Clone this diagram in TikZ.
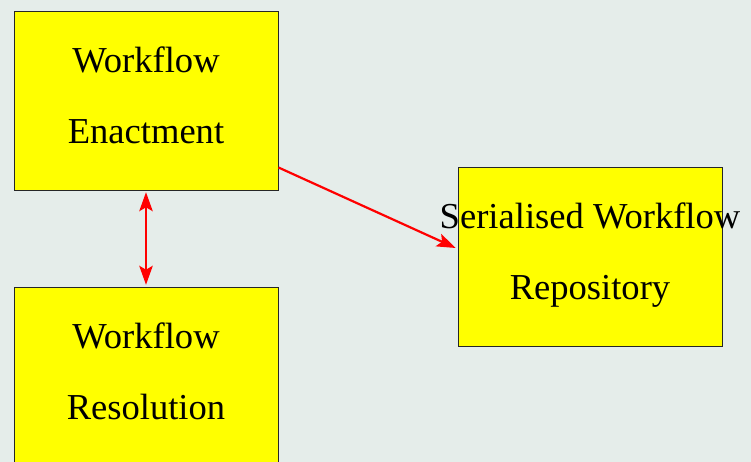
\documentclass[tikz,border=0pt]{standalone}
\usepackage{fontspec}
\setmainfont{Liberation Serif}
\usetikzlibrary{arrows.meta}
\definecolor{bgcol}{RGB}{229,237,234}
\definecolor{boxfill}{RGB}{255,255,0}
\begin{document}
\begin{tikzpicture}[x=0.02cm,y=-0.02cm]
\tikzset{
    box/.style={draw=black!85, fill=boxfill, line width=0.55pt,
        minimum width=264*0.02cm, minimum height=179*0.02cm, inner sep=0pt},
    box text/.style={align=center, font={\fontsize{20.8}{40.4}\selectfont}},
    link/.style={red, line width=1.25pt, {Stealth[length=0.38cm,width=0.27cm,inset=0.08cm]}-{Stealth[length=0.38cm,width=0.27cm,inset=0.08cm]}},
    link one/.style={red, line width=1.25pt, -{Stealth[length=0.38cm,width=0.27cm,inset=0.08cm]}}}

% background and page size
\fill[bgcol] (0,0) rectangle (751,462);
\useasboundingbox (0,0) rectangle (751,462);

\node[box] (enact) at (146,100.5) {};
\node[box] (resol) at (146,376.5) {};
\node[box] (repo) at (590,257) {};

\node[box text] (enacttext) at ([yshift=0.11cm]enact.center) {Workflow\\Enactment};
\node[box text] (resoltext) at ([yshift=0.11cm]resol.center) {Workflow\\Resolution};
\node[box text] (repotext) at ([yshift=0.04cm]repo.center) {Serialised Workflow\\Repository};

\draw[link] ([yshift=-1pt]enact.south) -- ([yshift=1pt]resol.north);
\draw[link one] ([yshift=0.46cm]enact.south east) -- ([yshift=0.18cm,xshift=-1pt]repo.west);

\end{tikzpicture}
\end{document}
